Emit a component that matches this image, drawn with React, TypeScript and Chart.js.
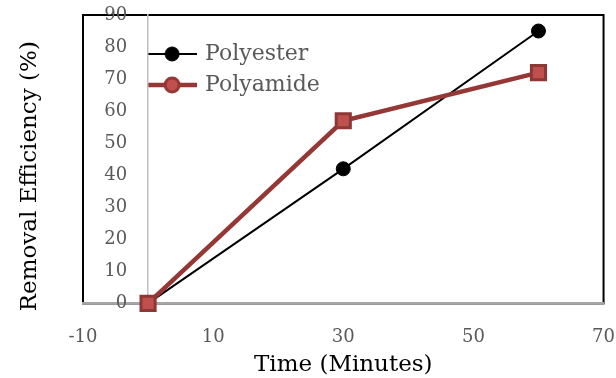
import React, { useEffect, useRef } from "react";
import { Chart, registerables } from "chart.js";

Chart.register(...registerables);

// ---- data ----
const timeMinutes = [0, 30, 60];
const polyesterValues = [0, 42, 85];
const polyamideValues = [0, 57, 72];
const seriesNames = ["Polyester", "Polyamide"];
const xTickRange = [-10, 70];
const xTickStep = 20;
const yTickRange = [0, 90];
const yTickStep = 10;
const xAxisTitle = "Time (Minutes)";
const yAxisTitle = "Removal Efficiency (%)";

const FONT = "'DejaVu Serif', serif";
const TICK_COLOR = "#595959";

function makeLegendSample(
  lineColor: string,
  lineWidth: number,
  fill: string,
  stroke: string,
  strokeWidth: number,
  radius: number
) {
  const c = document.createElement("canvas");
  c.width = 50;
  c.height = 22;
  const ctx = c.getContext("2d")!;
  ctx.strokeStyle = lineColor;
  ctx.lineWidth = lineWidth;
  ctx.beginPath();
  ctx.moveTo(0, 11);
  ctx.lineTo(50, 11);
  ctx.stroke();
  ctx.beginPath();
  ctx.arc(25, 11, radius, 0, Math.PI * 2);
  ctx.fillStyle = fill;
  ctx.fill();
  ctx.lineWidth = strokeWidth;
  ctx.strokeStyle = stroke;
  ctx.stroke();
  return c;
}

const plotFrame = {
  id: "plotFrame",
  beforeDraw(chart: any) {
    const { ctx, chartArea: a } = chart;
    ctx.save();
    ctx.strokeStyle = "#000";
    ctx.lineWidth = 2;
    ctx.strokeRect(a.left, a.top, a.right - a.left, a.bottom - a.top);
    ctx.restore();
  },
};

const placer = {
  id: "placer",
  afterLayout(chart: any) {
    const lg = chart.legend;
    if (lg) {
      const x0 = chart.scales.x.getPixelForValue(0);
      const left = x0 - 7;
      const top = chart.chartArea.top + 19;
      lg.left = left;
      lg.right = left + 260;
      lg.top = top;
      lg.bottom = top + 100;
      lg.width = 260;
      lg.height = 100;
    }
    const yt = chart.scales.yTitle;
    if (yt) {
      yt.top += 17;
      yt.bottom += 17;
    }
  },
};

export default function App() {
  const ref = useRef<HTMLCanvasElement | null>(null);

  useEffect(() => {
    if (!ref.current) return;
    const samples = [
      makeLegendSample("#000000", 2, "#000000", "#000000", 1, 7),
      makeLegendSample("#953735", 4.5, "#c0504d", "#953735", 3, 7),
    ];
    const chart = new Chart(ref.current, {
      type: "line",
      data: {
        datasets: [
          {
            label: seriesNames[0],
            data: timeMinutes.map((t, i) => ({ x: t, y: polyesterValues[i] })),
            xAxisID: "x",
            yAxisID: "y",
            borderColor: "#000000",
            borderWidth: 2,
            pointRadius: 7,
            pointHoverRadius: 7,
            pointBackgroundColor: "#000000",
            pointBorderColor: "#000000",
            pointBorderWidth: 1,
            clip: false,
            order: 1,
          },
          {
            label: seriesNames[1],
            data: timeMinutes.map((t, i) => ({ x: t, y: polyamideValues[i] })),
            xAxisID: "x",
            yAxisID: "y",
            borderColor: "#953735",
            borderWidth: 4.5,
            pointStyle: "rect",
            pointRadius: 10,
            pointHoverRadius: 10,
            pointBackgroundColor: "#c0504d",
            pointBorderColor: "#8c3836",
            pointBorderWidth: 3,
            clip: false,
            order: 0,
          },
        ],
      },
      options: {
        responsive: true,
        maintainAspectRatio: false,
        animation: false,
        layout: { autoPadding: false, padding: { left: 13, right: 12, top: 15, bottom: 0 } },
        plugins: {
          tooltip: { enabled: false },
          legend: {
            position: "chartArea" as any,
            align: "start",
            labels: {
              usePointStyle: true,
              pointStyleWidth: 44,
              padding: 9,
              color: TICK_COLOR,
              font: { family: FONT, size: 22 },
              generateLabels(c: any) {
                const items = (Chart.defaults.plugins.legend.labels as any).generateLabels(c);
                items.sort((a: any, b: any) => a.datasetIndex - b.datasetIndex);
                items.forEach((it: any) => {
                  it.pointStyle = samples[it.datasetIndex];
                  it.fontColor = TICK_COLOR;
                });
                return items;
              },
            },
          },
        },
        scales: {
          x: {
            type: "linear",
            min: xTickRange[0],
            max: xTickRange[1],
            position: "bottom",
            ticks: {
              stepSize: xTickStep,
              padding: 1,
              color: TICK_COLOR,
              font: { family: FONT, size: 18, lineHeight: 3.667 },
            },
            grid: { display: false, drawTicks: false },
            border: { display: true, color: "#a6a6a6", width: 2 },
            title: {
              display: true,
              text: xAxisTitle,
              color: "#000000",
              font: { family: FONT, size: 23 },
              padding: { top: -20, bottom: -1 },
            },
          },
          y: {
            type: "linear",
            min: yTickRange[0],
            max: yTickRange[1],
            position: { x: -3.2 } as any,
            ticks: {
              stepSize: yTickStep,
              color: TICK_COLOR,
              font: { family: FONT, size: 18 },
            },
            grid: { display: false, drawTicks: false },
            border: { display: false },
          },
          yAxisLine: {
            type: "linear",
            axis: "y",
            min: yTickRange[0],
            max: yTickRange[1],
            position: { x: 0 } as any,
            ticks: { display: false },
            grid: { display: false, drawTicks: false },
            border: { display: true, color: "#bfbfbf", width: 1.5 },
          },
          yTitle: {
            type: "linear",
            axis: "y",
            position: "left",
            ticks: { display: false },
            grid: { display: false, drawTicks: false },
            border: { display: false },
            title: {
              display: true,
              text: yAxisTitle,
              color: "#000000",
              font: { family: FONT, size: 23 },
              padding: { top: 3.2, bottom: 39.2 },
            },
          },
        } as any,
      },
      plugins: [plotFrame, placer],
    });
    return () => chart.destroy();
  }, []);

  return (
    <div style={{ position: "fixed", left: 0, top: 0, width: 616, height: 378 }}>
      <canvas ref={ref} />
    </div>
  );
}
